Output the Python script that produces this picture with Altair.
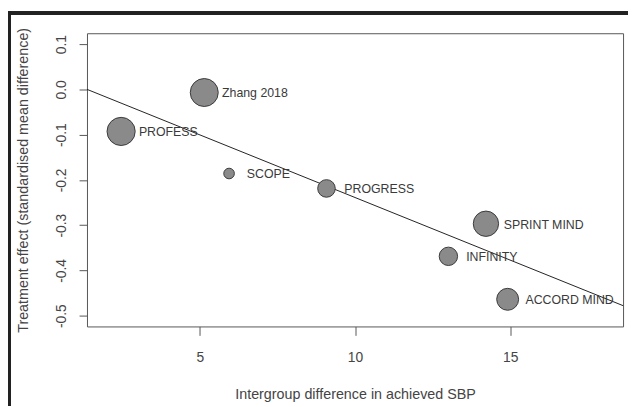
import altair as alt
import pandas as pd

# ---- data ----
studies = ["Zhang 2018", "PROFESS", "SCOPE", "PROGRESS", "SPRINT MIND", "INFINITY", "ACCORD MIND"]
sbp_diff = [5.14, 2.46, 5.94, 9.08, 14.22, 13.01, 14.92]
effect = [-0.007, -0.093, -0.186, -0.219, -0.297, -0.369, -0.464]
weight = [16.0, 16.2, 2.3, 6.3, 13.1, 6.9, 9.8]

fit_x = [1.36, 18.64]
fit_y = [0.0, -0.478]

x_ticks = [5, 10, 15]
y_ticks = [0.1, 0.0, -0.1, -0.2, -0.3, -0.4, -0.5]

x_domain = [1.36, 18.64]
y_domain = [-0.524, 0.124]

FONT = "Liberation Sans"

pts = pd.DataFrame({"study": studies, "x": sbp_diff, "y": effect, "w": weight})
fit = pd.DataFrame({"x": fit_x, "y": fit_y})

xs = alt.Scale(domain=x_domain, nice=False, zero=False)
ys = alt.Scale(domain=y_domain, nice=False, zero=False)

x_axis = alt.Axis(
    title="Intergroup difference in achieved SBP",
    values=x_ticks, format="d", grid=False, domain=False,
    tickSize=9, tickColor="#555", labelPadding=15,
    labelFont=FONT, labelFontSize=14, labelColor="#444",
    titleFont=FONT, titleFontSize=14.5, titleFontWeight="normal", titleColor="#444",
    titlePadding=24,
)
y_axis = alt.Axis(
    title="Treatment effect (standardised mean difference)",
    values=y_ticks, grid=False, domain=False,
    labelExpr="replace(format(datum.value, '.1f'), '\u2212', '-')",
    tickSize=8, tickColor="#555", labelPadding=11,
    labelAngle=-90, labelAlign="center", labelBaseline="bottom",
    labelFont=FONT, labelFontSize=14, labelColor="#444",
    titleFont=FONT, titleFontSize=14.5, titleFontWeight="normal", titleColor="#444",
    titlePadding=24,
)

line = alt.Chart(fit).mark_line(color="#222", strokeWidth=1).encode(
    x=alt.X("x:Q", scale=xs, axis=x_axis),
    y=alt.Y("y:Q", scale=ys, axis=y_axis),
)

bubbles = alt.Chart(pts).mark_circle(
    fill="#8a8a8a", stroke="#3a3a3a", strokeWidth=1, opacity=1
).encode(
    x=alt.X("x:Q", scale=xs),
    y=alt.Y("y:Q", scale=ys),
    size=alt.Size("w:Q", scale=alt.Scale(domain=[0, 16], range=[0, 804], zero=True), legend=None),
)

labels = alt.Chart(pts).mark_text(
    align="left", baseline="middle", dx=18, dy=1, font=FONT, fontSize=12.5, color="#3a3a3a"
).encode(
    x=alt.X("x:Q", scale=xs),
    y=alt.Y("y:Q", scale=ys),
    text="study:N",
)

# decorative outer frame (top and left edges of the figure border)
frame_top = alt.Chart(pts).mark_rule(color="#222", strokeWidth=3).encode(
    x=alt.value(-80), x2=alt.value(548), y=alt.value(-20.5)
)
frame_left = alt.Chart(pts).mark_rule(color="#222", strokeWidth=3).encode(
    x=alt.value(-79), y=alt.value(-22), y2=alt.value(380)
)

chart = alt.layer(line, bubbles, labels, frame_top, frame_left).properties(
    width=543, height=297,
    autosize=alt.AutoSizeParams(type="none"),
    padding={"left": 80, "top": 23, "right": 5, "bottom": 78},
    background="white",
).configure_view(stroke="#555", strokeWidth=1)

chart.save("out.html", embed_options={"renderer": "svg", "actions": False})
